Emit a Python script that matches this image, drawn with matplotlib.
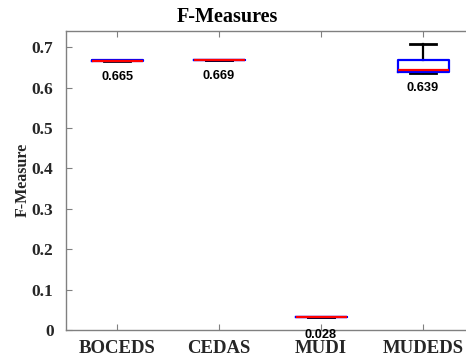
import matplotlib
matplotlib.use("Agg")
import matplotlib.pyplot as plt

# ── data ──
methods = ["BOCEDS", "CEDAS", "MUDI", "MUDEDS"]
q1 = [0.665, 0.669, 0.031, 0.638]
medians = [0.6665, 0.669, 0.031, 0.644]
q3 = [0.668, 0.669, 0.031, 0.669]
whis_lo = [0.665, 0.669, 0.031, 0.637]
whis_hi = [0.669, 0.669, 0.031, 0.708]
annot_vals = [0.665, 0.669, 0.028, 0.639]

SERIF = ["Liberation Serif", "DejaVu Serif"]
TICK_COLOR = "#262626"
SPINE_COLOR = "#808080"

fig = plt.figure(figsize=(4.66, 3.6), dpi=100)
# WHY: reference is cropped on the right, the axes run past the image edge
ax = fig.add_axes([66 / 466, 30 / 360, 408 / 466, 299 / 360])

stats = [
    {"med": m, "q1": a, "q3": b, "whislo": lo, "whishi": hi, "fliers": []}
    for m, a, b, lo, hi in zip(medians, q1, q3, whis_lo, whis_hi)
]
ax.bxp(
    stats,
    positions=range(1, len(methods) + 1),
    widths=0.5,
    capwidths=0.25,
    showfliers=False,
    boxprops={"color": "blue", "linewidth": 1.6, "zorder": 3},
    medianprops={"color": "red", "linewidth": 1.6, "zorder": 4},
    whiskerprops={"color": "black", "linewidth": 1.6, "zorder": 2},
    capprops={"color": "black", "linewidth": 2.0, "zorder": 2},
)

for i, v in enumerate(annot_vals):
    ax.text(i + 1, v - 0.04, f"{v:.3f}", ha="center", va="center",
            fontsize=9.2, fontweight="bold", color="black",
            family=["Liberation Sans", "DejaVu Sans"], clip_on=False, zorder=6)

ax.set_xlim(0.5, 4.5)
ax.set_ylim(0, 0.74)
ax.set_yticks([0, 0.1, 0.2, 0.3, 0.4, 0.5, 0.6, 0.7])
ax.set_yticklabels(["0", "0.1", "0.2", "0.3", "0.4", "0.5", "0.6", "0.7"])
ax.set_xticks(range(1, len(methods) + 1))
ax.set_xticklabels(methods)

ax.tick_params(direction="in", length=4, width=0.8, color=SPINE_COLOR,
               labelcolor=TICK_COLOR, top=True)
ax.tick_params(axis="x", labelsize=13.5, pad=7)
ax.tick_params(axis="y", labelsize=12.5, pad=9)
for lbl in ax.get_xticklabels() + ax.get_yticklabels():
    lbl.set_family(SERIF)
    lbl.set_fontweight("bold")

for side in ["left", "bottom", "top"]:
    ax.spines[side].set_color(SPINE_COLOR)
    ax.spines[side].set_linewidth(1.0)
ax.spines["right"].set_visible(False)

fig.text(23 / 466, 1 - 180 / 360, "F-Measure", rotation=90, ha="center",
         va="center", fontsize=11.5, fontweight="bold", color=TICK_COLOR,
         family=SERIF)
fig.text(227 / 466, 1 - 17 / 360, "F-Measures", ha="center", va="center",
         fontsize=14.5, fontweight="bold", color="black", family=SERIF)

fig.savefig("out.png", dpi=100, facecolor="white")
